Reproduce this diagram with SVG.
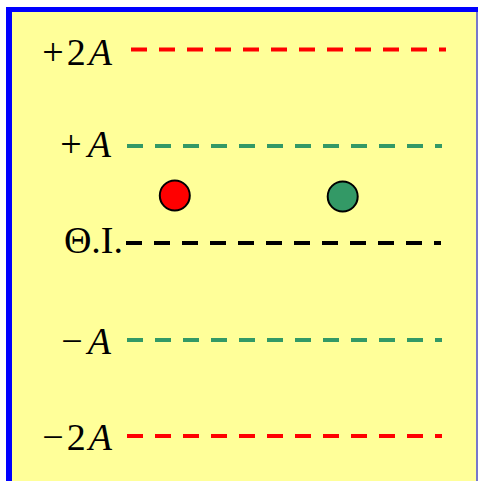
<svg xmlns="http://www.w3.org/2000/svg" width="478" height="481" viewBox="0 0 478 481">
<style>
.lbl{font-family:"Liberation Serif","Times New Roman",serif;font-size:38px;fill:#000}
.it{font-style:italic}
.dash{fill:none;stroke-width:4;stroke-dasharray:16 12}
.red{stroke:#FF0000}
.grn{stroke:#339966}
.blk{stroke:#000000}
.dot{stroke:#000;stroke-width:2}
</style>
<rect x="0" y="0" width="478" height="481" fill="#FFFFFF"/>
<rect x="6" y="7" width="472" height="474" fill="#0000FF"/>
<rect x="12" y="12" width="464" height="469" fill="#FFFF99"/>
<rect x="476" y="12" width="2" height="469" fill="#7777CC"/>
<g id="connectors">
<line class="dash red" x1="131" y1="49.5" x2="446" y2="49.5"/>
<line class="dash grn" x1="127" y1="146" x2="442" y2="146"/>
<line class="dash blk" x1="126" y1="243" x2="441" y2="243"/>
<line class="dash grn" x1="127" y1="340" x2="442" y2="340"/>
<line class="dash red" x1="127" y1="436" x2="442" y2="436"/>
</g>
<g id="label-plus2A"><text class="lbl" x="112" y="65" text-anchor="end">+<tspan dx="3">2</tspan><tspan class="it" dx="3">A</tspan></text></g>
<g id="label-plusA"><text class="lbl" x="111" y="157" text-anchor="end">+<tspan class="it" dx="6">A</tspan></text></g>
<g id="label-OI"><text class="lbl" x="123" y="253" text-anchor="end">Θ.Ι.</text></g>
<g id="label-minusA"><text class="lbl" x="111" y="354" text-anchor="end">−<tspan class="it" dx="5">A</tspan></text></g>
<g id="label-minus2A"><text class="lbl" x="112" y="450" text-anchor="end">−<tspan dx="3">2</tspan><tspan class="it" dx="3">A</tspan></text></g>
<g id="ball-red"><circle class="dot" cx="174.8" cy="195.5" r="15" fill="#FF0000"/></g>
<g id="ball-green"><circle class="dot" cx="342.7" cy="196.5" r="15" fill="#339966"/></g>
</svg>
